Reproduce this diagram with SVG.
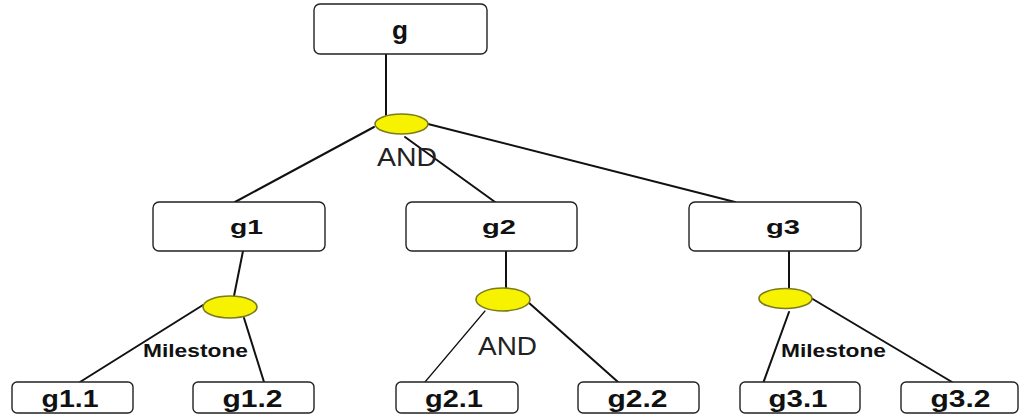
<svg xmlns="http://www.w3.org/2000/svg" width="1020" height="418" viewBox="0 0 1020 418">
  <style>
    .box { fill: #ffffff; stroke: #222222; stroke-width: 1.4; }
    .dec { fill: #f7f200; stroke: #7a7a1e; stroke-width: 1.6; }
    .edge { stroke: #111111; stroke-width: 2; fill: none; stroke-linecap: round; }
    .thin { stroke-width: 1.2; }
    .lbl { font-family: "Liberation Sans", Arial, sans-serif; font-weight: bold; fill: #111111; text-anchor: middle; }
    .op { font-family: "Liberation Sans", Arial, sans-serif; fill: #222222; }
  </style>
  <rect width="1020" height="418" fill="#ffffff"/>

  <!-- connectors -->
  <g id="connectors">
    <line class="edge" x1="386" y1="54" x2="386" y2="115"/>
    <line class="edge" x1="374" y1="127" x2="235" y2="202"/>
    <line class="edge" x1="405" y1="137" x2="495" y2="202"/>
    <line class="edge" x1="428" y1="124" x2="735" y2="202"/>

    <line class="edge" x1="243" y1="251" x2="234" y2="296"/>
    <line class="edge" x1="203" y1="305" x2="80" y2="382"/>
    <line class="edge" x1="244" y1="318" x2="264" y2="382"/>

    <line class="edge" x1="506" y1="251" x2="506" y2="288"/>
    <line class="edge thin" x1="485" y1="311" x2="425" y2="382"/>
    <line class="edge" x1="528" y1="302" x2="618" y2="382"/>

    <line class="edge" x1="789" y1="251" x2="789" y2="289"/>
    <line class="edge" x1="789" y1="312" x2="761" y2="389"/>
    <line class="edge" x1="811" y1="298" x2="952" y2="382"/>
  </g>

  <!-- decomposition operators -->
  <g id="op-g">
    <ellipse class="dec" cx="401.5" cy="124" rx="26.5" ry="10"/>
    <text class="op" x="377" y="166" font-size="25" textLength="60" lengthAdjust="spacingAndGlyphs">AND</text>
  </g>
  <g id="op-g1">
    <ellipse class="dec" cx="230" cy="307" rx="27" ry="11"/>
    <text class="lbl" x="195.5" y="357" font-size="17.5" textLength="105" lengthAdjust="spacingAndGlyphs">Milestone</text>
  </g>
  <g id="op-g2">
    <ellipse class="dec" cx="503" cy="299.5" rx="27" ry="11.5"/>
    <text class="op" x="478" y="355" font-size="25" textLength="59" lengthAdjust="spacingAndGlyphs">AND</text>
  </g>
  <g id="op-g3">
    <ellipse class="dec" cx="785.5" cy="298.5" rx="26.5" ry="10"/>
    <text class="lbl" x="833.5" y="357" font-size="17.5" textLength="105" lengthAdjust="spacingAndGlyphs">Milestone</text>
  </g>

  <!-- goals -->
  <g id="g">
    <rect class="box" x="314" y="4" width="173" height="50" rx="6"/>
    <text class="lbl" x="400" y="39" font-size="25" textLength="16" lengthAdjust="spacingAndGlyphs">g</text>
  </g>
  <g id="g1">
    <rect class="box" x="153" y="202" width="172" height="49" rx="6"/>
    <text class="lbl" x="246.5" y="234" font-size="20" textLength="33" lengthAdjust="spacingAndGlyphs">g1</text>
  </g>
  <g id="g2">
    <rect class="box" x="406" y="202" width="171" height="49" rx="6"/>
    <text class="lbl" x="499" y="234" font-size="20" textLength="34" lengthAdjust="spacingAndGlyphs">g2</text>
  </g>
  <g id="g3">
    <rect class="box" x="689" y="202" width="172" height="49" rx="6"/>
    <text class="lbl" x="783" y="234" font-size="20" textLength="34" lengthAdjust="spacingAndGlyphs">g3</text>
  </g>

  <g id="g1.1">
    <rect class="box" x="12" y="382" width="121" height="31" rx="5"/>
    <text class="lbl" x="70" y="407" font-size="23" textLength="57" lengthAdjust="spacingAndGlyphs">g1.1</text>
  </g>
  <g id="g1.2">
    <rect class="box" x="193" y="382" width="121" height="31" rx="5"/>
    <text class="lbl" x="252.5" y="407" font-size="23" textLength="60" lengthAdjust="spacingAndGlyphs">g1.2</text>
  </g>
  <g id="g2.1">
    <rect class="box" x="396" y="382" width="122" height="31" rx="5"/>
    <text class="lbl" x="454" y="407" font-size="23" textLength="58" lengthAdjust="spacingAndGlyphs">g2.1</text>
  </g>
  <g id="g2.2">
    <rect class="box" x="578" y="382" width="121" height="31" rx="5"/>
    <text class="lbl" x="637.5" y="407" font-size="23" textLength="60" lengthAdjust="spacingAndGlyphs">g2.2</text>
  </g>
  <g id="g3.1">
    <rect class="box" x="740" y="382" width="120" height="31" rx="5"/>
    <text class="lbl" x="798" y="407" font-size="23" textLength="59" lengthAdjust="spacingAndGlyphs">g3.1</text>
  </g>
  <g id="g3.2">
    <rect class="box" x="901" y="382" width="117" height="31" rx="5"/>
    <text class="lbl" x="960.5" y="407" font-size="23" textLength="60" lengthAdjust="spacingAndGlyphs">g3.2</text>
  </g>
</svg>
